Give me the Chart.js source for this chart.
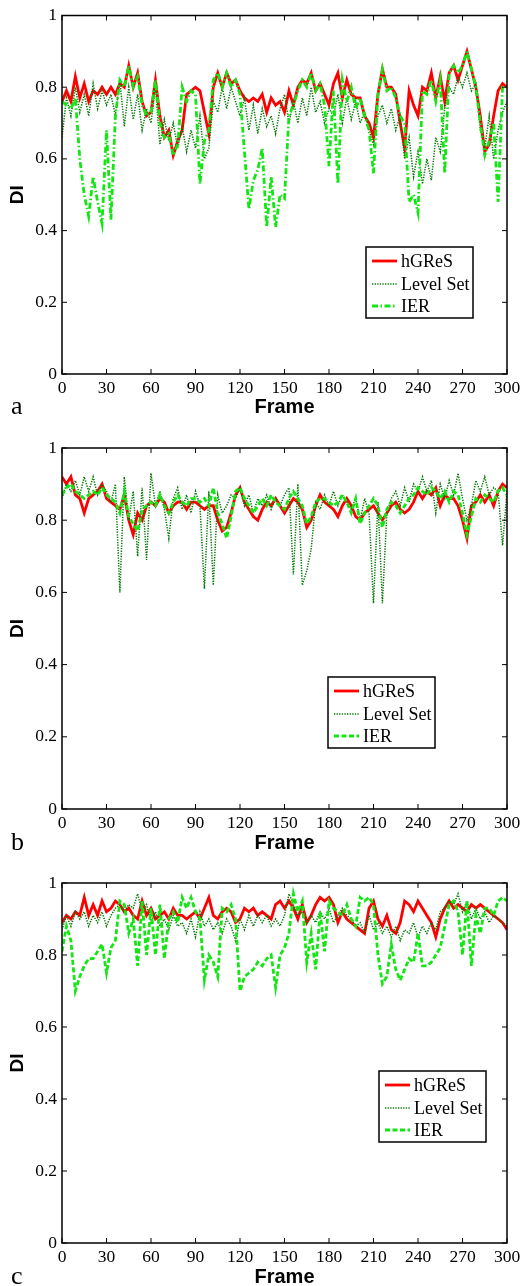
<!DOCTYPE html>
<html>
<head>
<meta charset="utf-8">
<script src="https://cdn.jsdelivr.net/npm/chart.js@4.4.1/dist/chart.umd.min.js"></script>
<style>
  html, body { margin: 0; padding: 0; background: #fff; }
  #wrap { position: relative; width: 525px; height: 1286px; }
  canvas { position: absolute; left: 0; }
</style>
</head>
<body>
<div id="wrap">
  <canvas id="chartA" width="525" height="430" style="top:0px"></canvas>
  <canvas id="chartB" width="525" height="430" style="top:430px"></canvas>
  <canvas id="chartC" width="525" height="426" style="top:860px"></canvas>
</div>
<script>
// frames sampled every 3rd frame, 0..300
const FRAME_STEP = 3;
const FRAMES = Array.from({ length: 101 }, (_, i) => i * FRAME_STEP);
const X_TICKS = [0, 30, 60, 90, 120, 150, 180, 210, 240, 270, 300];
const Y_TICKS = [0, 0.2, 0.4, 0.6, 0.8, 1];
const SERIES_NAMES = ['hGReS', 'Level Set', 'IER'];

// panel a
const A_HGRES = [
  0.76,0.79,0.76,0.83,0.77,0.81,0.76,0.79,0.78,0.80,
  0.78,0.80,0.78,0.81,0.80,0.86,0.80,0.84,0.76,0.72,
  0.73,0.82,0.72,0.66,0.68,0.61,0.65,0.68,0.78,0.79,
  0.80,0.79,0.73,0.67,0.80,0.84,0.80,0.84,0.81,0.82,
  0.79,0.77,0.76,0.77,0.76,0.78,0.73,0.77,0.75,0.76,
  0.73,0.79,0.75,0.80,0.82,0.81,0.84,0.79,0.81,0.78,
  0.75,0.81,0.84,0.77,0.82,0.78,0.77,0.77,0.72,0.70,
  0.66,0.78,0.85,0.80,0.80,0.78,0.70,0.63,0.79,0.75,
  0.72,0.80,0.79,0.84,0.77,0.83,0.76,0.84,0.86,0.82,
  0.86,0.90,0.85,0.80,0.72,0.62,0.64,0.72,0.79,0.81,0.80
];
const A_LEVELSET = [
  0.66,0.77,0.72,0.80,0.73,0.78,0.72,0.81,0.74,0.79,
  0.75,0.78,0.72,0.82,0.69,0.80,0.71,0.78,0.68,0.74,
  0.70,0.80,0.64,0.71,0.65,0.70,0.63,0.69,0.62,0.68,
  0.63,0.72,0.60,0.63,0.76,0.73,0.80,0.74,0.80,0.76,
  0.72,0.77,0.68,0.75,0.67,0.74,0.69,0.72,0.67,0.74,
  0.78,0.70,0.76,0.70,0.77,0.72,0.80,0.73,0.76,0.70,
  0.74,0.72,0.78,0.70,0.77,0.71,0.76,0.70,0.73,0.68,
  0.64,0.72,0.75,0.70,0.74,0.68,0.72,0.60,0.66,0.55,
  0.62,0.53,0.60,0.54,0.66,0.62,0.74,0.80,0.78,0.83,
  0.80,0.84,0.79,0.81,0.68,0.63,0.72,0.60,0.68,0.73,0.76
];
const A_IER = [
  0.76,0.75,0.74,0.77,0.60,0.50,0.44,0.55,0.48,0.42,
  0.68,0.43,0.72,0.82,0.80,0.86,0.80,0.83,0.75,0.72,
  0.73,0.82,0.70,0.66,0.67,0.61,0.64,0.80,0.76,0.79,
  0.78,0.53,0.65,0.68,0.82,0.84,0.80,0.84,0.80,0.82,
  0.78,0.62,0.46,0.54,0.57,0.63,0.41,0.55,0.41,0.50,
  0.49,0.72,0.75,0.79,0.82,0.80,0.84,0.79,0.81,0.75,
  0.58,0.79,0.53,0.82,0.76,0.80,0.74,0.77,0.72,0.68,
  0.56,0.78,0.85,0.79,0.80,0.77,0.72,0.70,0.48,0.50,
  0.45,0.79,0.78,0.82,0.76,0.82,0.56,0.84,0.86,0.84,
  0.86,0.90,0.85,0.80,0.70,0.61,0.65,0.70,0.48,0.80,0.80
];

// panel b
const B_HGRES = [
  0.92,0.90,0.92,0.87,0.86,0.82,0.86,0.87,0.88,0.90,
  0.86,0.85,0.84,0.83,0.87,0.80,0.76,0.82,0.80,0.84,
  0.85,0.84,0.86,0.85,0.82,0.84,0.85,0.85,0.83,0.85,
  0.85,0.84,0.83,0.84,0.84,0.80,0.77,0.78,0.82,0.87,
  0.89,0.85,0.83,0.81,0.80,0.83,0.85,0.84,0.86,0.84,
  0.82,0.84,0.86,0.85,0.83,0.78,0.80,0.84,0.87,0.85,
  0.84,0.83,0.81,0.84,0.86,0.84,0.81,0.80,0.82,0.83,
  0.84,0.82,0.80,0.82,0.84,0.85,0.83,0.82,0.83,0.85,
  0.88,0.86,0.88,0.87,0.89,0.84,0.87,0.86,0.86,0.84,
  0.80,0.75,0.84,0.85,0.87,0.85,0.87,0.84,0.88,0.90,0.89
];
const B_LEVELSET = [
  0.86,0.90,0.88,0.91,0.87,0.92,0.88,0.92,0.87,0.90,
  0.88,0.85,0.90,0.60,0.92,0.80,0.88,0.70,0.89,0.69,
  0.93,0.84,0.88,0.83,0.75,0.86,0.89,0.83,0.87,0.82,
  0.88,0.84,0.61,0.88,0.62,0.87,0.82,0.84,0.87,0.86,
  0.89,0.84,0.87,0.82,0.86,0.84,0.87,0.83,0.86,0.84,
  0.87,0.89,0.65,0.90,0.62,0.66,0.72,0.85,0.83,0.87,
  0.84,0.88,0.84,0.87,0.85,0.83,0.86,0.80,0.86,0.82,
  0.57,0.85,0.57,0.82,0.86,0.88,0.84,0.89,0.85,0.90,
  0.88,0.92,0.88,0.91,0.82,0.90,0.86,0.91,0.87,0.93,
  0.86,0.80,0.84,0.91,0.88,0.92,0.87,0.89,0.88,0.73,0.88
];
const B_IER = [
  0.87,0.89,0.90,0.88,0.87,0.86,0.87,0.88,0.87,0.89,
  0.87,0.86,0.85,0.82,0.88,0.81,0.79,0.77,0.83,0.84,
  0.85,0.84,0.87,0.84,0.82,0.85,0.87,0.85,0.84,0.86,
  0.86,0.85,0.86,0.84,0.89,0.82,0.79,0.75,0.81,0.88,
  0.89,0.86,0.84,0.82,0.84,0.86,0.84,0.87,0.85,0.84,
  0.83,0.86,0.88,0.86,0.84,0.79,0.81,0.85,0.86,0.86,
  0.85,0.84,0.85,0.87,0.85,0.82,0.86,0.79,0.82,0.84,
  0.86,0.84,0.78,0.83,0.85,0.84,0.82,0.84,0.86,0.87,
  0.89,0.88,0.87,0.89,0.88,0.86,0.88,0.85,0.88,0.87,
  0.82,0.76,0.81,0.86,0.85,0.87,0.86,0.85,0.88,0.89,0.87
];

// panel c
const C_HGRES = [
  0.89,0.91,0.90,0.92,0.91,0.96,0.91,0.94,0.91,0.95,
  0.92,0.93,0.95,0.94,0.92,0.93,0.91,0.90,0.95,0.91,
  0.93,0.90,0.91,0.92,0.90,0.93,0.91,0.91,0.90,0.91,
  0.92,0.90,0.93,0.96,0.91,0.90,0.92,0.93,0.92,0.89,
  0.90,0.93,0.92,0.93,0.91,0.92,0.91,0.90,0.94,0.95,
  0.93,0.95,0.93,0.90,0.94,0.89,0.91,0.94,0.96,0.95,
  0.96,0.94,0.89,0.92,0.90,0.89,0.88,0.87,0.86,0.93,
  0.95,0.90,0.88,0.91,0.87,0.86,0.89,0.95,0.94,0.92,
  0.95,0.93,0.91,0.89,0.85,0.90,0.93,0.95,0.93,0.94,
  0.93,0.92,0.94,0.93,0.94,0.93,0.92,0.91,0.90,0.89,0.87
];
const C_LEVELSET = [
  0.87,0.91,0.88,0.92,0.90,0.92,0.88,0.91,0.89,0.92,
  0.88,0.91,0.93,0.94,0.92,0.94,0.93,0.97,0.92,0.94,
  0.89,0.92,0.88,0.90,0.87,0.91,0.88,0.89,0.86,0.90,
  0.85,0.92,0.88,0.90,0.87,0.89,0.86,0.90,0.88,0.84,
  0.90,0.87,0.91,0.88,0.91,0.89,0.91,0.88,0.90,0.88,
  0.91,0.97,0.94,0.91,0.92,0.89,0.91,0.89,0.92,0.90,
  0.93,0.89,0.91,0.93,0.91,0.90,0.88,0.89,0.86,0.91,
  0.87,0.89,0.86,0.88,0.85,0.88,0.84,0.87,0.86,0.89,
  0.85,0.88,0.86,0.89,0.87,0.92,0.93,0.95,0.94,0.97,
  0.92,0.95,0.90,0.93,0.90,0.92,0.89,0.91,0.90,0.89,0.88
];
const C_IER = [
  0.81,0.88,0.84,0.70,0.74,0.77,0.79,0.79,0.81,0.83,
  0.75,0.82,0.84,0.95,0.94,0.86,0.90,0.77,0.95,0.80,
  0.93,0.80,0.94,0.79,0.90,0.92,0.89,0.96,0.93,0.96,
  0.92,0.90,0.73,0.80,0.78,0.74,0.93,0.92,0.94,0.90,
  0.70,0.74,0.75,0.76,0.78,0.77,0.79,0.80,0.71,0.80,
  0.82,0.86,0.97,0.92,0.95,0.78,0.86,0.76,0.92,0.81,
  0.95,0.93,0.92,0.91,0.94,0.90,0.88,0.96,0.95,0.96,
  0.94,0.80,0.72,0.74,0.83,0.76,0.73,0.76,0.79,0.78,
  0.86,0.77,0.77,0.78,0.80,0.82,0.88,0.94,0.95,0.92,
  0.80,0.95,0.77,0.91,0.86,0.93,0.93,0.91,0.95,0.96,0.95
];

const RED = '#ff0000';
const DARK_GREEN = '#007a00';
const BRIGHT_GREEN = '#14e614';
const SERIF = "'Liberation Serif', 'Times New Roman', serif";
const SANS = "'Liberation Sans', Arial, sans-serif";

const panels = [
  { canvas: 'chartA', letter: 'a', data: [A_HGRES, A_LEVELSET, A_IER], ierDash: [6, 2.5, 1.5, 2.5],
    height: 430, areaTop: 14, areaBottom: 374, textY: 407, legendX: 366, legendY: 247 },
  { canvas: 'chartB', letter: 'b', data: [B_HGRES, B_LEVELSET, B_IER], ierDash: [5, 2.5],
    height: 430, areaTop: 18, areaBottom: 379, textY: 413, legendX: 328, legendY: 247 },
  { canvas: 'chartC', letter: 'c', data: [C_HGRES, C_LEVELSET, C_IER], ierDash: [5, 2.5],
    height: 426, areaTop: 23, areaBottom: 383, textY: 417, legendX: 379, legendY: 211 }
];

function toPoints(values) {
  return values.map((v, i) => ({ x: FRAMES[i], y: v }));
}

// box, inward ticks, titles, panel letter and legend (matlab look)
const matlabFrame = {
  id: 'matlabFrame',
  afterDraw(chart, args, opts) {
    const ctx = chart.ctx;
    const area = chart.chartArea;
    const xs = chart.scales.x;
    const ys = chart.scales.y;
    const tick = 5;
    ctx.save();
    ctx.strokeStyle = '#000';
    ctx.lineWidth = 1.5;
    ctx.strokeRect(area.left, area.top, area.right - area.left, area.bottom - area.top);
    ctx.lineWidth = 1;
    ctx.beginPath();
    X_TICKS.forEach(t => {
      const px = xs.getPixelForValue(t);
      ctx.moveTo(px, area.bottom); ctx.lineTo(px, area.bottom - tick);
      ctx.moveTo(px, area.top); ctx.lineTo(px, area.top + tick);
    });
    Y_TICKS.forEach(t => {
      const py = ys.getPixelForValue(t);
      ctx.moveTo(area.left, py); ctx.lineTo(area.left + tick, py);
      ctx.moveTo(area.right, py); ctx.lineTo(area.right - tick, py);
    });
    ctx.stroke();

    // axis titles
    ctx.fillStyle = '#000';
    ctx.font = 'bold 20px ' + SANS;
    ctx.textAlign = 'center';
    ctx.textBaseline = 'middle';
    ctx.fillText('Frame', (area.left + area.right) / 2, opts.textY);
    ctx.save();
    ctx.translate(18, (area.top + area.bottom) / 2);
    ctx.rotate(-Math.PI / 2);
    ctx.font = 'bold 19px ' + SANS;
    ctx.fillText('DI', 0, 0);
    ctx.restore();

    // panel letter
    ctx.font = '26px ' + SERIF;
    ctx.textAlign = 'left';
    ctx.fillText(opts.letter, 11, opts.textY);

    // legend
    const lx = opts.legendX, ly = opts.legendY;
    const w = 107, h = 71;
    ctx.fillStyle = '#fff';
    ctx.fillRect(lx, ly, w, h);
    ctx.strokeStyle = '#000';
    ctx.lineWidth = 1.5;
    ctx.strokeRect(lx, ly, w, h);
    const styles = chart.data.datasets;
    const rows = [14, 37, 59];
    ctx.font = '18px ' + SERIF;
    SERIES_NAMES.forEach((name, i) => {
      const ds = styles.find(d => d.label === name);
      const y = ly + rows[i];
      ctx.strokeStyle = ds.borderColor;
      ctx.lineWidth = ds.borderWidth;
      ctx.setLineDash(ds.borderDash || []);
      ctx.beginPath();
      ctx.moveTo(lx + 6, y);
      ctx.lineTo(lx + 31, y);
      ctx.stroke();
      ctx.setLineDash([]);
      ctx.fillStyle = '#000';
      ctx.textAlign = 'left';
      ctx.textBaseline = 'middle';
      ctx.fillText(name, lx + 35, y + 1);
    });
    ctx.restore();
  }
};

panels.forEach(p => {
  const ctx = document.getElementById(p.canvas);
  new Chart(ctx, {
    type: 'line',
    data: {
      datasets: [
        { label: 'hGReS', data: toPoints(p.data[0]), borderColor: RED, borderWidth: 2.8,
          pointRadius: 0, tension: 0, order: 3 },
        { label: 'Level Set', data: toPoints(p.data[1]), borderColor: DARK_GREEN, borderWidth: 1.5,
          borderDash: [1.3, 1.3], pointRadius: 0, tension: 0, order: 2 },
        { label: 'IER', data: toPoints(p.data[2]), borderColor: BRIGHT_GREEN, borderWidth: 2.8,
          borderDash: p.ierDash, pointRadius: 0, tension: 0, order: 1 }
      ]
    },
    options: {
      responsive: false,
      animation: false,
      devicePixelRatio: 1,
      layout: {
        padding: { top: p.areaTop, right: 18, left: 0, bottom: 0 }
      },
      plugins: {
        legend: { display: false },
        tooltip: { enabled: false },
        matlabFrame: { letter: p.letter, textY: p.textY, legendX: p.legendX, legendY: p.legendY }
      },
      scales: {
        x: {
          type: 'linear',
          min: 0,
          max: 300,
          afterFit: s => { s.height = p.height - p.areaBottom; },
          afterBuildTicks: s => { s.ticks = X_TICKS.map(v => ({ value: v })); },
          grid: { display: false, drawTicks: false },
          border: { display: false },
          ticks: { padding: 4, color: '#000', font: { family: SERIF, size: 17.5 }, maxRotation: 0, autoSkip: false }
        },
        y: {
          type: 'linear',
          min: 0,
          max: 1,
          afterFit: s => { s.width = 62; },
          afterBuildTicks: s => { s.ticks = Y_TICKS.map(v => ({ value: v })); },
          grid: { display: false, drawTicks: false },
          border: { display: false },
          ticks: { padding: 5, color: '#000', font: { family: SERIF, size: 17.5 }, autoSkip: false,
            callback: v => String(Math.round(v * 10) / 10) }
        }
      }
    },
    plugins: [matlabFrame]
  });
});
</script>
</body>
</html>
